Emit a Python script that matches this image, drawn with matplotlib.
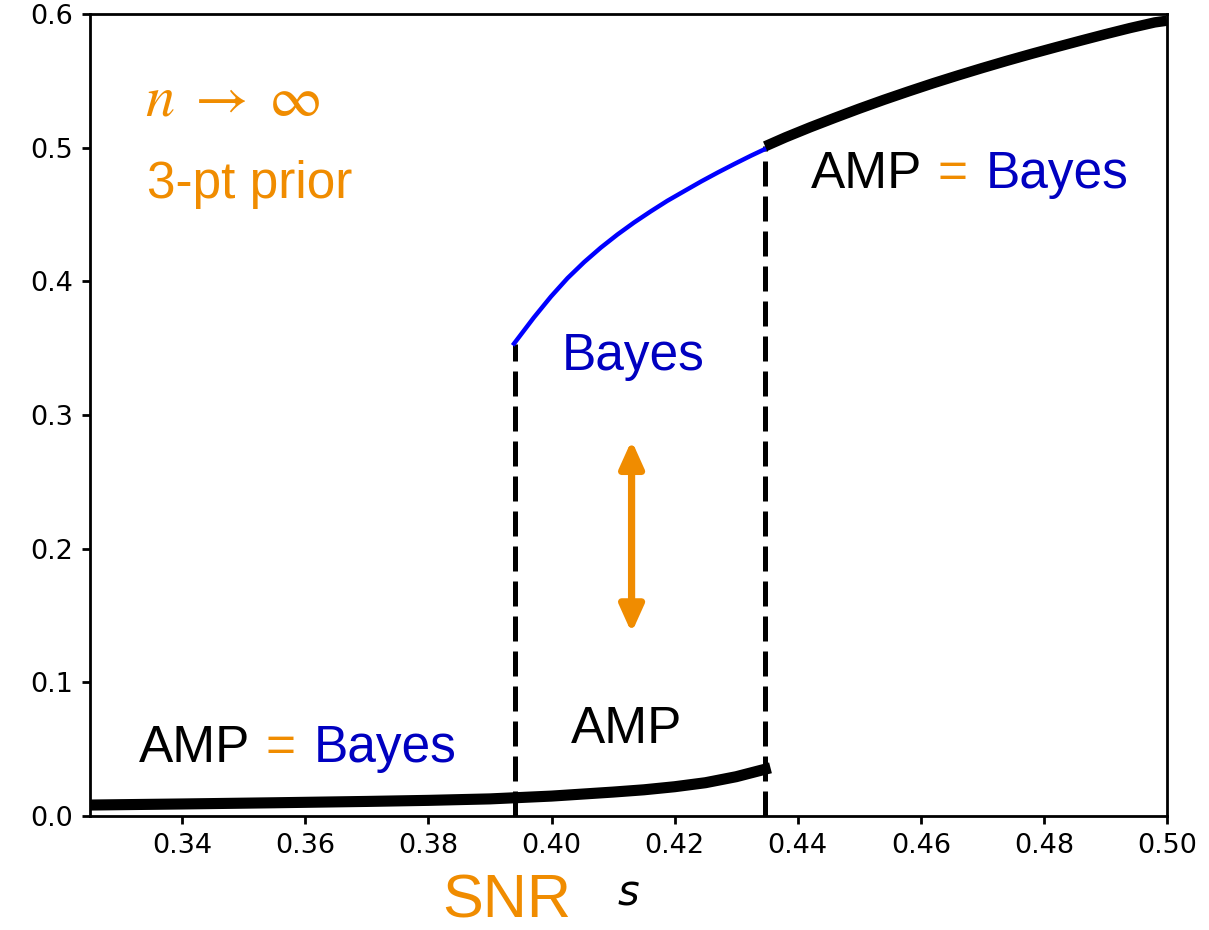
import matplotlib
matplotlib.use("Agg")
import matplotlib.pyplot as plt

# ---- data ----
low_x = [0.325, 0.34, 0.355, 0.37, 0.38, 0.39, 0.40, 0.41, 0.415, 0.42,
         0.425, 0.43, 0.4347]
low_y = [0.0082, 0.0090, 0.0099, 0.0109, 0.0117, 0.0128, 0.0149, 0.0179,
         0.0196, 0.0219, 0.0249, 0.0294, 0.0350]

blue_x = [0.3939, 0.3971, 0.3999, 0.4026, 0.4053, 0.4080, 0.4107, 0.4134,
          0.4161, 0.4188, 0.4216, 0.4243, 0.4270, 0.4297, 0.4324, 0.4347]
blue_y = [0.3534, 0.3728, 0.3886, 0.4024, 0.4144, 0.4252, 0.4350, 0.4440,
          0.4523, 0.4602, 0.4676, 0.4747, 0.4814, 0.4878, 0.4940, 0.4990]

high_x = [0.4347, 0.438, 0.442, 0.446, 0.450, 0.454, 0.458, 0.462, 0.466,
          0.470, 0.474, 0.478, 0.482, 0.486, 0.490, 0.494, 0.498, 0.500]
high_y = [0.5010, 0.5077, 0.5152, 0.5223, 0.5292, 0.5358, 0.5421, 0.5482,
          0.5540, 0.5596, 0.5650, 0.5702, 0.5752, 0.5801, 0.5849, 0.5895,
          0.5937, 0.5950]

s_low = 0.394      # left dashed transition
s_high = 0.4347    # right dashed transition
y_low_top = 0.3534
y_high_top = 0.5010

arrow_x = 0.413
arrow_y = [0.137, 0.281]

xticks = [0.34, 0.36, 0.38, 0.40, 0.42, 0.44, 0.46, 0.48, 0.50]
yticks = [0.0, 0.1, 0.2, 0.3, 0.4, 0.5, 0.6]

ORANGE = "#F08C00"
TBLUE = "#0000C0"

W, H = 1209, 930
fig = plt.figure(figsize=(W / 100, H / 100), dpi=100)
ax = fig.add_axes([90 / W, 1 - 816 / H, (1167 - 90) / W, (816 - 14) / H])

ax.plot([s_low, s_low], [0, y_low_top], color="black", lw=3.6,
        dashes=(5, 2), zorder=2)
ax.plot([s_high, s_high], [0, y_high_top], color="black", lw=3.6,
        dashes=(5, 2), zorder=2)
ax.plot(low_x, low_y, color="black", lw=8, zorder=3,
        solid_capstyle="projecting", solid_joinstyle="round")
ax.plot(blue_x, blue_y, color="#0000FF", lw=3.2, zorder=3,
        solid_joinstyle="round")
ax.plot(high_x, high_y, color="black", lw=7.5, zorder=3,
        solid_capstyle="butt", solid_joinstyle="round")

ax.annotate("", xy=(arrow_x, arrow_y[1]), xytext=(arrow_x, arrow_y[0]),
            arrowprops=dict(arrowstyle="<|-|>,head_length=0.8,head_width=0.36",
                            mutation_scale=20, lw=5.2, color=ORANGE,
                            shrinkA=0, shrinkB=0))

ax.set_xlim(0.325, 0.5)
ax.set_ylim(0.0, 0.6)
ax.set_xticks(xticks)
ax.set_xticklabels([f"{v:.2f}" for v in xticks])
ax.set_yticks(yticks)
ax.set_yticklabels([f"{v:.1f}" for v in yticks])
ax.tick_params(labelsize=19.5, length=6, width=2, pad=6)
for sp in ax.spines.values():
    sp.set_linewidth(2)
ax.set_xlabel("s", fontsize=30, labelpad=10, family="DejaVu Sans",
              fontstyle="italic")

def ftext(x, y, s, **kw):
    fig.text(x / W, 1 - y / H, s, va="baseline", ha="left", **kw)

font = dict(family="Liberation Sans", fontsize=37)
ftext(145, 115, r"$n\;\rightarrow\;\infty$", color=ORANGE, fontsize=42,
      math_fontfamily="stix")
ftext(147, 198, "3-pt prior", color=ORANGE, **font)

ftext(139, 762, "AMP", color="black", **font)
ftext(266, 762, "=", color=ORANGE, **font)
ftext(314, 762, "Bayes", color=TBLUE, **font)

ftext(811, 188, "AMP", color="black", **font)
ftext(938, 188, "=", color=ORANGE, **font)
ftext(986, 188, "Bayes", color=TBLUE, **font)

ftext(562, 370, "Bayes", color=TBLUE, **font)
ftext(571, 743, "AMP", color="black", **font)

ftext(442, 917, "SNR", color=ORANGE, family="Liberation Sans", fontsize=44)

fig.savefig("out.png", dpi=100)
